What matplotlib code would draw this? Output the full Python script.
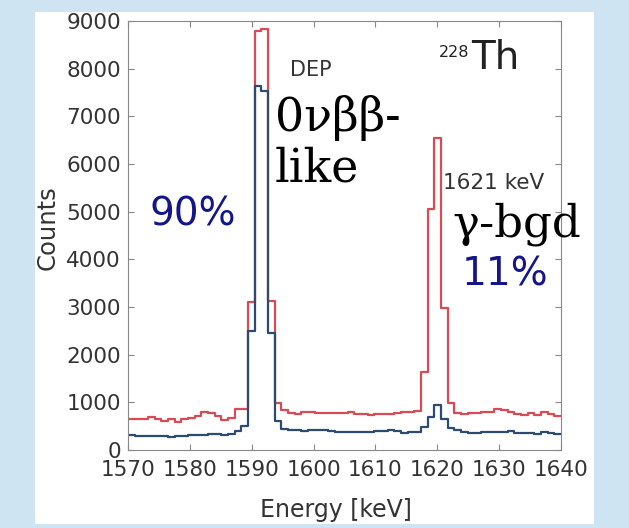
import numpy as np
import matplotlib.pyplot as plt
from matplotlib.patches import Rectangle

# 65 bins from 1570 to 1640 keV
edges = np.linspace(1570, 1640, 66)

all_events = [640, 645, 660, 685, 650, 615, 640, 595, 640, 680, 715, 805, 785, 715, 630, 680, 870, 850,
              3100, 8780, 8830, 3120,
              995, 840, 770, 760, 800, 790, 770, 775, 770, 770, 780, 790, 760, 750, 730, 760, 750, 760,
              770, 790, 800, 810,
              1640, 5050, 6540, 2980, 985,
              770, 765, 770, 780, 790, 800, 850, 835, 790, 750, 730, 770, 730, 790, 750, 715]
psd_accepted = [320, 300, 290, 300, 295, 285, 280, 290, 300, 310, 320, 320, 330, 330, 320, 340, 400, 510,
                2500, 7640, 7530, 2450,
                600, 450, 420, 410, 390, 420, 410, 410, 400, 385, 385, 385, 385, 370, 375, 390, 400, 410,
                395, 350, 370, 380,
                490, 700, 950, 650, 470,
                410, 370, 355, 365, 370, 375, 385, 385, 390, 365, 360, 360, 340, 385, 350, 340]

fig = plt.figure(figsize=(6.29, 5.28), dpi=100)
fig.patch.set_facecolor("#cfe4f2")
fig.patches.append(Rectangle((35 / 629, 4 / 528), 559 / 629, 512 / 528,
                             transform=fig.transFigure, facecolor="white", edgecolor="none", zorder=-10))

ax = fig.add_axes([128 / 629, 78 / 528, 433 / 629, 429 / 528])
ax.set_facecolor("white")

ax.step(edges, all_events + [all_events[-1]], where="post", color="#d94a55", lw=1.6)
ax.step(edges, psd_accepted + [psd_accepted[-1]], where="post", color="#2d4b6e", lw=1.6)

ax.set_xlim(1570, 1640)
ax.set_ylim(0, 9000)
ax.set_xticks(np.arange(1570, 1641, 10))
ax.set_yticks(np.arange(0, 9001, 1000))
ax.tick_params(direction="in", top=True, right=True, colors="#888888", labelcolor="#333333",
               labelsize=15.5, length=4)
ax.tick_params(axis="x", pad=7)
ax.tick_params(axis="y", pad=5)
for s in ax.spines.values():
    s.set_color("#888888")

fig.text(336 / 629, 1 - 517 / 528, "Energy [keV]", fontsize=17, color="#333333",
         ha="center", va="baseline")
fig.text(48 / 629, 1 - 228 / 528, "Counts", fontsize=17.5, color="#333333",
         ha="center", va="center", rotation=90)

fig.text(290 / 629, 1 - 76 / 528, "DEP", fontsize=15, color="#333333", va="baseline")
fig.text(275 / 629, 1 - 182 / 528, "0νββ-\nlike", fontsize=33, family="DejaVu Serif",
         color="black", va="baseline", linespacing=1.15)
fig.text(150 / 629, 1 - 226 / 528, "90%", fontsize=28, color="#15158a", va="baseline")
fig.text(439 / 629, 1 - 57 / 528, "228", fontsize=11.5, color="#222222", va="baseline")
fig.text(471 / 629, 1 - 69 / 528, "Th", fontsize=28, color="#222222", va="baseline")
fig.text(443 / 629, 1 - 189 / 528, "1621 keV", fontsize=15.5, color="#333333", va="baseline")
fig.text(452 / 629, 1 - 236 / 528, "γ-bgd", fontsize=32.5, family="DejaVu Serif",
         color="black", va="baseline")
fig.text(462 / 629, 1 - 285 / 528, "11%", fontsize=28, color="#15158a", va="baseline")

plt.savefig("out.png", dpi=100, facecolor=fig.get_facecolor())
